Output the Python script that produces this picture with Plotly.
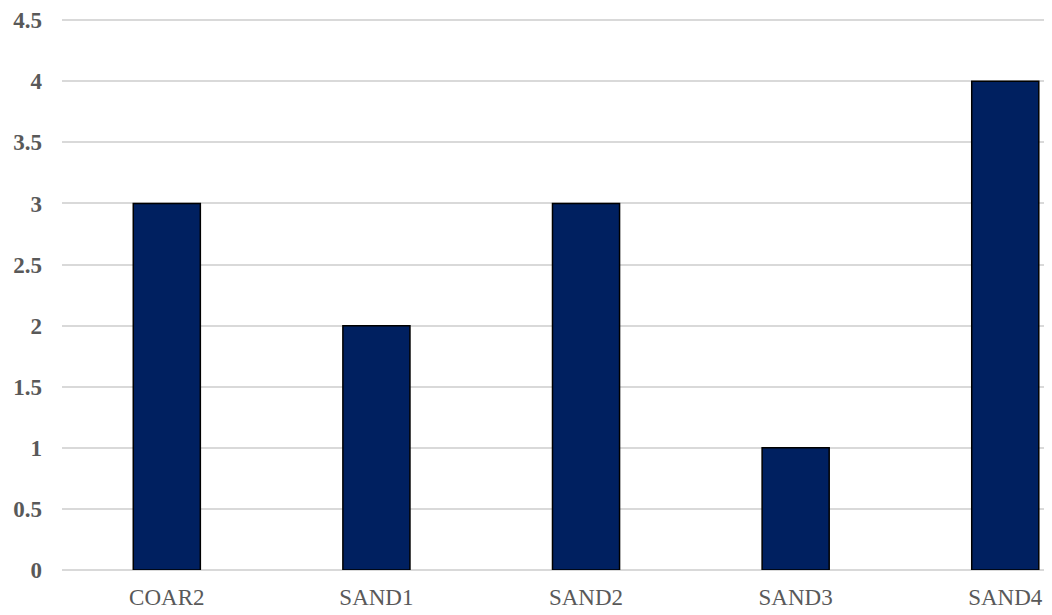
import plotly.graph_objects as go

categories = ["COAR2", "SAND1", "SAND2", "SAND3", "SAND4"]
values = [3, 2, 3, 1, 4]
y_ticks = [0, 0.5, 1, 1.5, 2, 2.5, 3, 3.5, 4, 4.5]
y_tick_labels = ["0", "0.5", "1", "1.5", "2", "2.5", "3", "3.5", "4", "4.5"]

fig = go.Figure(
    go.Bar(
        x=categories,
        y=values,
        width=0.32,
        marker=dict(color="#002060", line=dict(color="#000000", width=1.5)),
    )
)

fig.update_layout(
    width=1044,
    height=607,
    margin=dict(l=54, r=0, t=9, b=45),
    paper_bgcolor="white",
    plot_bgcolor="white",
    showlegend=False,
    font=dict(family="Liberation Serif, Times New Roman, serif", color="#595959"),
)
fig.update_xaxes(
    type="category",
    range=[-0.5, 4.223],
    showgrid=False,
    showline=False,
    ticks="",
    tickfont=dict(size=23, color="#595959"),
    ticklabelstandoff=11,
    ticklabeloverflow="allow",
)
fig.update_yaxes(
    range=[0, 4.51],
    tickvals=y_ticks,
    ticktext=y_tick_labels,
    showgrid=True,
    gridcolor="#d9d9d9",
    gridwidth=1.5,
    zeroline=True,
    zerolinecolor="#d9d9d9",
    zerolinewidth=1.5,
    showline=False,
    ticks="",
    tickfont=dict(size=23, color="#595959", weight="bold"),
    ticklabelstandoff=19,
    ticklabeloverflow="allow",
)

fig.write_html("out.html")
